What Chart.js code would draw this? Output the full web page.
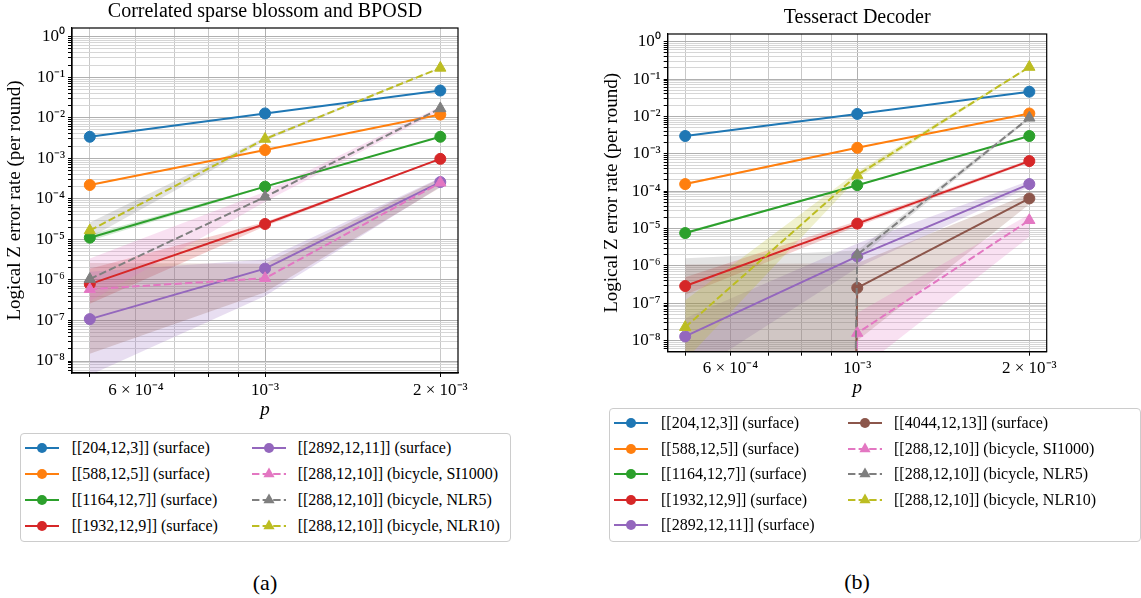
<!DOCTYPE html>
<html lang="en">
<head>
  <meta charset="UTF-8" />
  <title>Logical Z error rate vs p</title>
  <style>
    body {
      margin: 0;
      background: #fff;
      font-family: "Liberation Serif", serif;
    }
    #page {
      position: relative;
      width: 1141px;
      height: 598px;
      overflow: hidden;
    }
    canvas {
      position: absolute;
      top: 0;
    }
    .legend {
      position: absolute;
      border: 1px solid #cccccc;
      border-radius: 4px;
      background: rgba(255, 255, 255, 0.8);
      box-sizing: border-box;
    }
    .item {
      position: absolute;
      font-size: 16px;
      line-height: 20px;
      white-space: nowrap;
      color: #000;
    }
    .caption {
      position: absolute;
      font-size: 22px;
      line-height: 26px;
      transform: translateX(-50%);
    }
  </style>
</head>
<body>
  <div id="page">
    <canvas id="bpChart" width="560" height="430" style="left:0px"></canvas>
    <canvas id="tsChart" width="561" height="410" style="left:580px"></canvas>
    <div class="caption" style="left:265px; top:570px">(a)</div>
    <div class="caption" style="left:857px; top:569px">(b)</div>
  </div>

  <script src="https://cdn.jsdelivr.net/npm/chart.js"></script>
  <script>
    // physical error rates
    const pValues = [5e-4, 1e-3, 2e-3];

    const codeNames = [
      "[[204,12,3]] (surface)",
      "[[588,12,5]] (surface)",
      "[[1164,12,7]] (surface)",
      "[[1932,12,9]] (surface)",
      "[[2892,12,11]] (surface)",
      "[[4044,12,13]] (surface)",
      "[[288,12,10]] (bicycle, SI1000)",
      "[[288,12,10]] (bicycle, NLR5)",
      "[[288,12,10]] (bicycle, NLR10)"
    ];
    const palette = ["#1f77b4", "#ff7f0e", "#2ca02c", "#d62728", "#9467bd",
                     "#8c564b", "#e377c2", "#7f7f7f", "#bcbd22"];
    const bicycle = [false, false, false, false, false, false, true, true, true];

    // correlated sparse blossom (surface) + BPOSD (bicycle)
    const bpCodes = [0, 1, 2, 3, 4, 6, 7, 8];
    const bpShade = [0, 1, 2, 3, 4, 5, 6, 7];
    const bpRate = [
      [3.4e-3, 1.28e-2, 4.7e-2],
      [2.2e-4, 1.6e-3, 1.2e-2],
      [1.1e-5, 2.0e-4, 3.4e-3],
      [7.9e-7, 2.4e-5, 9.7e-4],
      [1.08e-7, 1.9e-6, 2.6e-4],
      [5.9e-7, 1.1e-6, 2.5e-4],
      [1.05e-6, 1.12e-4, 1.7e-2],
      [1.66e-5, 3.0e-3, 1.7e-1]
    ];
    const bpLow = [
      [3.3e-3, 1.26e-2, 4.65e-2],
      [2.1e-4, 1.57e-3, 1.19e-2],
      [9.3e-6, 1.9e-4, 3.35e-3],
      [2.6e-7, 2.1e-5, 9.5e-4],
      [4.5e-9, 4e-7, 2.0e-4],
      [1.5e-8, 5e-7, 1.9e-4],
      [3e-7, 8.5e-5, 1.5e-2],
      [1.1e-5, 2.7e-3, 1.65e-1]
    ];
    const bpHigh = [
      [3.5e-3, 1.30e-2, 4.75e-2],
      [2.3e-4, 1.63e-3, 1.21e-2],
      [1.3e-5, 2.1e-4, 3.45e-3],
      [1.9e-6, 2.7e-5, 9.9e-4],
      [1.6e-6, 3.2e-6, 3.3e-4],
      [2.6e-6, 2.5e-6, 3.2e-4],
      [3.4e-6, 1.5e-4, 1.9e-2],
      [2.6e-5, 3.3e-3, 1.75e-1]
    ];

    // tesseract decoder
    const tsCodes = [0, 1, 2, 3, 4, 5, 6, 7, 8];
    const tsShade = [0, 1, 2, 3, 4, 5, 6, 7, 8];
    const tsRate = [
      [3.0e-3, 1.17e-2, 4.6e-2],
      [1.55e-4, 1.45e-3, 1.2e-2],
      [7.6e-6, 1.45e-4, 3.0e-3],
      [2.9e-7, 1.36e-5, 6.4e-4],
      [1.3e-8, 1.8e-6, 1.55e-4],
      [0, 2.6e-7, 6.4e-5],
      [0, 1.6e-8, 1.67e-5],
      [0, 2.0e-6, 9.2e-3],
      [2.3e-8, 2.7e-4, 2.1e-1]
    ];
    const tsLow = [
      [2.9e-3, 1.15e-2, 4.55e-2],
      [1.45e-4, 1.4e-3, 1.18e-2],
      [7e-6, 1.4e-4, 2.95e-3],
      [1.7e-7, 1.15e-5, 5.9e-4],
      [1e-9, 9e-7, 1.3e-4],
      [0, 1e-8, 4.5e-5],
      [0, 1.5e-9, 6e-6],
      [0, 1.5e-6, 8.4e-3],
      [3e-9, 2.2e-4, 2.0e-1]
    ];
    const tsHigh = [
      [3.1e-3, 1.19e-2, 4.65e-2],
      [1.65e-4, 1.5e-3, 1.22e-2],
      [8.3e-6, 1.5e-4, 3.05e-3],
      [5e-7, 1.6e-5, 7e-4],
      [4e-8, 4e-6, 1.9e-4],
      [1.1e-6, 1.2e-6, 8.5e-5],
      [0, 5.5e-8, 2.4e-5],
      [1.6e-6, 2.6e-6, 1.0e-2],
      [1.2e-7, 3.3e-4, 2.2e-1]
    ];

    const yTickValues = [1, 1e-1, 1e-2, 1e-3, 1e-4, 1e-5, 1e-6, 1e-7, 1e-8];
    const yTickLabels = ["10⁰", "10⁻¹", "10⁻²", "10⁻³", "10⁻⁴", "10⁻⁵", "10⁻⁶", "10⁻⁷", "10⁻⁸"];
    const xTickValues = [6e-4, 1e-3, 2e-3];
    const xTickLabels = ["6 × 10⁻⁴", "10⁻³", "2 × 10⁻³"];

    const X_MIN = 4.66e-4, X_MAX = 2.145e-3;

    Chart.defaults.font.family = '"Liberation Serif", serif';
    Chart.defaults.color = "#000";

    // log axes clip non-positive values to a tiny number, the line then drops off the bottom
    const clip = v => (v > 0 ? v : 1e-300);
    const near = (a, b) => Math.abs(a - b) <= 1e-6 * b;

    function rgba(hex, a) {
      const n = parseInt(hex.slice(1), 16);
      return `rgba(${(n >> 16) & 255},${(n >> 8) & 255},${n & 255},${a})`;
    }

    // 1..9 x 10^e grid positions inside [lo, hi]
    function logGrid(lo, hi) {
      const out = [];
      for (let e = -10; e <= 1; e++) {
        for (let m = 1; m <= 9; m++) {
          const v = m * Math.pow(10, e);
          if (v >= lo && v <= hi) out.push({ value: v, major: m === 1 });
        }
      }
      return out;
    }

    function labelFor(values, labels, v) {
      const i = values.findIndex(t => near(v, t));
      return i >= 0 ? labels[i] : "";
    }

    function buildDatasets(codes, shade, rate, low, high) {
      const ds = [];
      const pts = arr => arr.map((v, k) => ({ x: pValues[k], y: clip(v) }));
      codes.forEach((c, i) => {
        const col = palette[c];
        const dashed = bicycle[c];
        ds.push({
          data: pts(high[i]), borderWidth: 0, borderColor: "transparent", pointRadius: 0,
          fill: "+1", backgroundColor: rgba(palette[shade[i]], 0.22), order: 100 - i
        });
        ds.push({
          data: pts(low[i]), borderWidth: 0, borderColor: "transparent", pointRadius: 0,
          fill: false, order: 100 - i
        });
        ds.push({
          label: codeNames[c], data: pts(rate[i]),
          borderColor: col, backgroundColor: col, borderWidth: 2,
          borderDash: dashed ? [7.4, 3.2] : [],
          pointStyle: dashed ? "triangle" : "circle",
          pointRadius: dashed ? 6.5 : 5.5, pointBorderWidth: 1, pointBorderColor: col,
          fill: false, order: -i
        });
      });
      return ds;
    }

    // black frame round the plotting area
    const frame = {
      id: "frame",
      afterDatasetsDraw(chart) {
        const a = chart.chartArea, ctx = chart.ctx;
        ctx.save();
        ctx.strokeStyle = "#000";
        ctx.lineWidth = 1.2;
        ctx.strokeRect(a.left, a.top, a.right - a.left, a.bottom - a.top);
        ctx.restore();
      }
    };

    function makeChart(id, title, datasets, L) {
      const yGrid = logGrid(L.yMin, L.yMax);
      const xGrid = logGrid(X_MIN, X_MAX);
      return new Chart(document.getElementById(id), {
        type: "line",
        data: { datasets },
        plugins: [frame],
        options: {
          responsive: false,
          animation: false,
          layout: { padding: { left: 0, top: 0, right: L.padRight, bottom: 0 } },
          plugins: {
            legend: { display: false },
            tooltip: { enabled: false },
            title: {
              display: true, text: title, fullSize: false,
              font: { size: 20, weight: "normal" }, color: "#000",
              padding: { top: L.titleTop, bottom: L.titleBottom }
            }
          },
          scales: {
            x: {
              type: "logarithmic", min: X_MIN, max: X_MAX,
              afterBuildTicks: s => { s.ticks = xGrid.map(t => ({ value: t.value })); },
              afterFit: s => { s.height = L.xAxisHeight; },
              ticks: {
                autoSkip: false, maxRotation: 0, padding: 3, font: { size: 17 },
                callback: v => labelFor(xTickValues, xTickLabels, v)
              },
              grid: {
                color: c => (c.tick && near(c.tick.value, 1e-3) ? "#b0b0b0" : "#c8c8c8"),
                lineWidth: 1, tickLength: 4, tickColor: "#000"
              },
              border: { display: true, color: "#000", width: 1.2 },
              title: {
                display: true, text: "p", font: { size: 19, style: "italic" },
                padding: { top: 0, bottom: L.xTitleBottom }
              }
            },
            y: {
              type: "logarithmic", min: L.yMin, max: L.yMax,
              afterBuildTicks: s => { s.ticks = yGrid.map(t => ({ value: t.value })); },
              afterFit: s => { s.width = L.yAxisWidth; },
              ticks: {
                autoSkip: false, padding: 3, font: { size: 17 },
                callback: v => labelFor(yTickValues, yTickLabels, v)
              },
              grid: {
                color: c => (c.tick && yTickValues.some(t => near(c.tick.value, t)) ? "#b0b0b0" : "#d6d6d6"),
                lineWidth: 1, tickLength: 4, tickColor: "#000"
              },
              border: { display: true, color: "#000", width: 1.2 },
              title: {
                display: true, text: "Logical Z error rate (per round)", font: { size: 19 },
                padding: { top: L.yTitleTop, bottom: 0 }
              }
            }
          }
        }
      });
    }

    function buildLegend(codes, box) {
      const page = document.getElementById("page");
      const frameDiv = document.createElement("div");
      frameDiv.className = "legend";
      frameDiv.style.left = box.left + "px";
      frameDiv.style.top = box.top + "px";
      frameDiv.style.width = box.width + "px";
      frameDiv.style.height = box.height + "px";
      page.appendChild(frameDiv);

      const rows = Math.ceil(codes.length / 2);
      codes.forEach((c, i) => {
        const col = Math.floor(i / rows), row = i % rows;
        const cy = box.firstRow + row * box.rowStep;
        const lineX = box.lineX[col], textX = box.textX[col];
        const color = palette[c];
        const dashed = bicycle[c];

        const svgNS = "http://www.w3.org/2000/svg";
        const svg = document.createElementNS(svgNS, "svg");
        svg.setAttribute("width", 36);
        svg.setAttribute("height", 20);
        svg.style.position = "absolute";
        svg.style.left = lineX + "px";
        svg.style.top = (cy - 10) + "px";
        const line = document.createElementNS(svgNS, "line");
        line.setAttribute("x1", 0); line.setAttribute("x2", 34);
        line.setAttribute("y1", 10); line.setAttribute("y2", 10);
        line.setAttribute("stroke", color);
        line.setAttribute("stroke-width", 2);
        if (dashed) line.setAttribute("stroke-dasharray", "7.4 3.2");
        svg.appendChild(line);
        let mark;
        if (dashed) {
          mark = document.createElementNS(svgNS, "polygon");
          mark.setAttribute("points", "17,3.5 22.6,13.3 11.4,13.3");
        } else {
          mark = document.createElementNS(svgNS, "circle");
          mark.setAttribute("cx", 17); mark.setAttribute("cy", 10); mark.setAttribute("r", 5);
        }
        mark.setAttribute("fill", color);
        svg.appendChild(mark);
        page.appendChild(svg);

        const t = document.createElement("div");
        t.className = "item";
        t.style.left = textX + "px";
        t.style.top = (cy - 10) + "px";
        t.textContent = codeNames[c];
        page.appendChild(t);
      });
    }

    makeChart("bpChart", "Correlated sparse blossom and BPOSD",
      buildDatasets(bpCodes, bpShade, bpRate, bpLow, bpHigh),
      { yMin: 5.06e-9, yMax: 1.639, padRight: 102, yAxisWidth: 72, xAxisHeight: 57,
        titleTop: 0.2, titleBottom: 3.8, xTitleBottom: 9, yTitleTop: 4.1 });

    makeChart("tsChart", "Tesseract Decoder",
      buildDatasets(tsCodes, tsShade, tsRate, tsLow, tsHigh),
      { yMin: 5.08e-9, yMax: 1.607, padRight: 94.3, yAxisWidth: 87.7, xAxisHeight: 58.3,
        titleTop: 6.2, titleBottom: 3.8, xTitleBottom: 11, yTitleTop: 21.1 });

    buildLegend(bpCodes, {
      left: 20, top: 433, width: 491, height: 109,
      firstRow: 448.3, rowStep: 25.9, lineX: [25, 251.7], textX: [71.7, 297.7]
    });
    buildLegend(tsCodes, {
      left: 609, top: 408, width: 532, height: 134,
      firstRow: 423.3, rowStep: 25.5, lineX: [614.3, 847.7], textX: [661, 894]
    });
  </script>
</body>
</html>
